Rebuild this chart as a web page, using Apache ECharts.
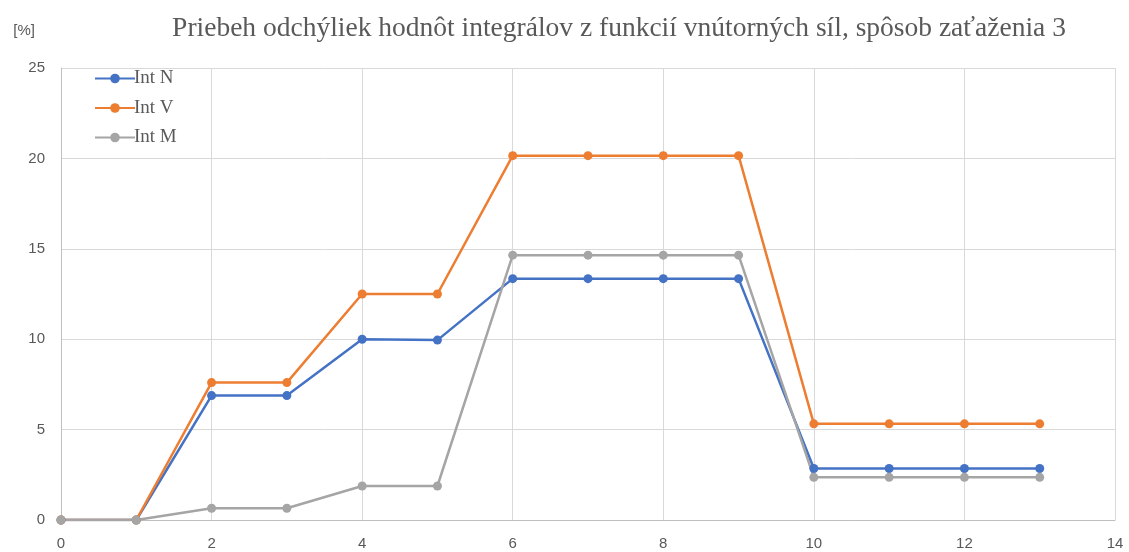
<!DOCTYPE html>
<html>
<head>
<meta charset="utf-8">
<script src="https://cdn.jsdelivr.net/npm/echarts@6/dist/echarts.min.js"></script>
<style>
  html, body { margin: 0; padding: 0; background: #fff; }
  #chart { width: 1129px; height: 552px; }
</style>
</head>
<body>
<div id="chart"></div>
<script>
// Load case steps on the x axis
const steps = [0, 1, 2, 3, 4, 5, 6, 7, 8, 9, 10, 11, 12, 13];
// Deviations of the integrals [%]
const intN = [0, 0, 6.88, 6.88, 10.0, 9.95, 13.35, 13.35, 13.35, 13.35, 2.85, 2.85, 2.85, 2.85];
const intV = [0, 0, 7.6, 7.6, 12.5, 12.5, 20.15, 20.15, 20.15, 20.15, 5.32, 5.32, 5.32, 5.32];
const intM = [0, 0, 0.65, 0.65, 1.88, 1.88, 14.65, 14.65, 14.65, 14.65, 2.36, 2.36, 2.36, 2.36];
const seriesNames = ['Int N', 'Int V', 'Int M'];
const seriesColors = ['#4472C4', '#ED7D31', '#A5A5A5'];

const pairs = arr => steps.map((s, i) => [s, arr[i]]);
const values = [intN, intV, intM];

const chart = echarts.init(document.getElementById('chart'), null, { renderer: 'canvas' });
chart.setOption({
  animation: false,
  backgroundColor: '#ffffff',
  title: {
    text: 'Priebeh odchýliek hodnôt integrálov z funkcií vnútorných síl, spôsob zaťaženia 3',
    left: 614,
    textAlign: 'center',
    top: 10,
    textStyle: {
      fontFamily: 'Liberation Serif',
      fontSize: 27.5,
      fontWeight: 'normal',
      color: '#595959'
    }
  },
  legend: {
    orient: 'vertical',
    left: 89,
    top: 64,
    itemWidth: 40,
    itemHeight: 12,
    itemGap: 10.5,
    data: seriesNames,
    textStyle: {
      fontFamily: 'Liberation Serif',
      fontSize: 19,
      color: '#595959',
      padding: [0, 0, 0, -6]
    }
  },
  grid: { left: 61, right: 14, top: 68, bottom: 32 },
  xAxis: {
    type: 'value',
    min: 0,
    max: 14,
    interval: 2,
    axisLine: { show: true, lineStyle: { color: '#BFBFBF', width: 1 } },
    axisTick: { show: false },
    axisLabel: { color: '#595959', fontSize: 15, fontFamily: 'Liberation Sans', margin: 16 },
    splitLine: { show: true, lineStyle: { color: '#D9D9D9', width: 1 } }
  },
  yAxis: {
    type: 'value',
    name: '[%]',
    nameLocation: 'end',
    nameGap: 30,
    nameTextStyle: { color: '#595959', fontSize: 15, fontFamily: 'Liberation Sans', align: 'right', padding: [0, 26, 0, 0] },
    min: 0,
    max: 25,
    interval: 5,
    axisLine: { show: true, lineStyle: { color: '#BFBFBF', width: 1 } },
    axisTick: { show: false },
    axisLabel: { color: '#595959', fontSize: 15, fontFamily: 'Liberation Sans', margin: 16 },
    splitLine: { show: true, lineStyle: { color: '#D9D9D9', width: 1 } }
  },
  series: seriesNames.map((name, i) => ({
    name,
    type: 'line',
    data: pairs(values[i]),
    symbol: 'circle',
    symbolSize: 9,
    lineStyle: { width: 2.5, color: seriesColors[i] },
    itemStyle: { color: seriesColors[i] },
    color: seriesColors[i]
  }))
});
</script>
</body>
</html>
